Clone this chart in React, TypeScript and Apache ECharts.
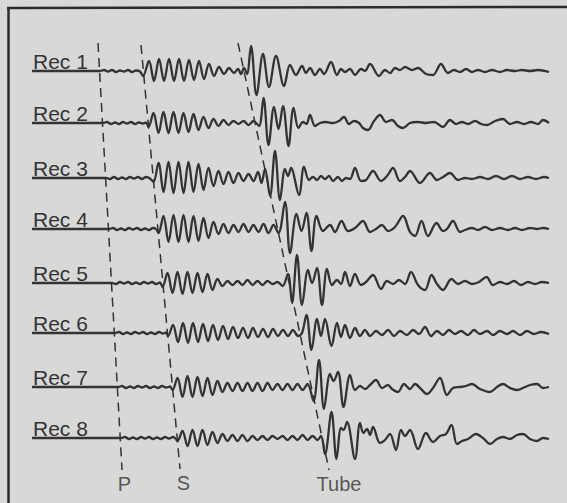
import React, { useEffect, useRef } from "react";
import * as echarts from "echarts";

// ---------- data (time axis in arbitrary units, amplitude up = positive) ----------
const recLabels = ["Rec 1", "Rec 2", "Rec 3", "Rec 4", "Rec 5", "Rec 6", "Rec 7", "Rec 8"];

const rec1 = [
  [32,0],[100,0],[104,1],[108,-0.5],[112,1],[116,-1],[120,0.5],[124,-0.5],[128,1],[132,-1],[136,0.5],[140,-0.5],
  [143,-5],[149,10],[154,-10],[159,12],[164,-10],[169,12],[174,-10],[179,12],[184,-10],[189,11],[194,-9],[199,10],[204,-8],[209,7],[214,-5],[219,4],[224,-3],[229,3],[234,-2],[238,2],[241,-3],[244,3],[247,-3],
  [251,25],[256.5,-24],[263,17],[269,-16],[276,15],[284,-15],[290,6],[296,-4],[302,5],[306,-2],[310,3],[315,-4],[320,2],[324,-3],[331,9],[337,-4],[341,2],[345,-1],[350,2],[355,-4],[361,2],[365,0],[370,7],[379,-5],[385,1],[390,-2],[395,3],[400,1],[405,4],[412,1],[418,3],[426,-3],[433,-4],[441,7],[448,-2],[454,1],[460,-1],[466,2],[472,-1],[478,1],[485,-1],[492,1],[500,-1],[507,1],[515,0],[522,1],[530,0],[538,1],[549,-1]
];
const rec2 = [
  [32,0],[103,0],[107,1],[111,-1],[115,0.5],[119,-1],[123,1],[127,-0.5],[131,1],[135,-1],[139,0.5],[143,-0.5],[146,0.5],
  [148.5,-4],[153.5,10],[158.5,-10],[163.5,11],[168.5,-10],[173.5,11],[178.5,-10],[183.5,10],[188.5,-9],[193.5,9],[198.5,-7],[203.5,6],[208.5,-5],[213.5,4],[218.5,-3],[223.5,3],[228.5,-2],[233.5,2],[238.5,-1],[243.5,2],[248.5,-2],[253.5,2],[259,-3],
  [263.5,25],[268.5,-22],[274,16],[278.5,-6],[283,17],[288.5,-23],[293.5,15],[298.5,-5],[303,1],[306.5,-1],[310,8],[315,-3],[320,0],[326,1],[333,0],[339,2],[344,6],[349,-1],[354,2],[359,0],[363,-5],[368,-7],[374,2],[380,8],[386,1],[392,3],[398,-3],[403,-5],[410,0],[418,1],[426,0],[434,1],[443,-4],[450,3],[456,-1],[462,1],[468,-1],[475,2],[481,-1],[487,-2],[495,2],[503,4],[510,-1],[517,1],[524,-1],[531,1],[538,-1],[543,3],[549,0]
];
const rec3 = [
  [32,0],[106,0],[110,-1],[114,1],[118,-1],[122,0.5],[126,-1],[130,1],[134,-0.5],[138,1],[142,-1],[146,1],[150,-0.5],
  [153.5,-4],[158.5,15],[163.5,-14],[168.5,16],[173.5,-15],[178.5,16],[183.5,-15],[188.5,16],[193.5,-14],[198.5,14],[203.5,-12],[208.5,10],[213.5,-8],[218.5,7],[223.5,-6],[228.5,6],[233.5,-5],[238.5,5],[243.5,-3],[248.5,4],[253.5,-3],[258,6],[261.5,-5],
  [265,9],[270,-18],[275,27],[280,-22],[285,9],[288,2],[291,10],[299,-17],[304,11],[309,-2],[313,1],[317,-2],[321,2],[325,-1],[329,2],[333,-3],[338,1],[342,-3],[346,0],[350,-1],[355,10],[361,-3],[366,-2],[373,7],[381,-3],[387,2],[393,10],[400,-3],[405,1],[410,7],[420,-5],[430,5],[437,-2],[443,1],[450,5],[458,-2],[465,0],[472,-1],[480,1],[488,-1],[496,2],[504,-1],[512,2],[520,-1],[528,1],[536,-1],[544,1],[549,0]
];
const rec4 = [
  [32,0],[109,0],[113,1],[117,-1],[121,0.5],[125,-1],[129,1],[133,-0.5],[137,1],[141,-1],[145,0.5],[149,-1],[153,1],[156,0],
  [158.5,-4],[163.5,13],[168.5,-13],[173.5,14],[178.5,-13],[183.5,14],[188.5,-13],[193.5,13],[198.5,-12],[203.5,11],[208.5,-9],[213.5,7],[218.5,-5],[223.5,5],[228.5,-4],[233.5,4],[238.5,-3],[243.5,5],[248.5,-3],[253.5,4],[258.5,-3],[263.5,5],[268.5,-4],[273.5,4],[278.5,-4],
  [285,27],[290,-24],[296.5,15],[301.5,-2],[306.5,16],[311.5,-22],[316.5,13],[323,-2],[330,4],[335,-3],[341.5,8],[348,-2],[355,1],[363,8],[370,-3],[376,0],[382,4],[388,-2],[395,2],[403,13],[410,-3],[415,-7],[421.5,8],[428,-7],[436.5,6],[443,-2],[447,0],[453,8],[460,-3],[465,-1],[472,1],[478,-1],[485,2],[492,-1],[500,1],[508,-1],[515,1],[522,-1],[530,1],[537,0],[543,1],[549,0]
];
const rec5 = [
  [32,0],[112,0],[116,-1],[120,1],[124,-0.5],[128,1],[132,-1],[136,0.5],[140,-1],[144,1],[148,-0.5],[152,1],[156,-1],[160,0.5],
  [162.5,-4],[167.5,10],[172.5,-10],[177.5,11],[182.5,-11],[187.5,11],[192.5,-10],[197.5,10],[202.5,-9],[207.5,9],[212.5,-7],[217.5,4],[222.5,-3],[227.5,2],[232.5,-2],[237.5,2],[242.5,-2],[247.5,3],[252.5,-2],[257.5,2],[262.5,-2],[267.5,2],[272.5,-1],[277.5,1],[282.5,-3],
  [288,9],[292,-20],[297,28],[302,-22],[308,13],[312,0],[317,15],[322,-22],[327,14],[332,-2],[337,3],[341,-1],[345,11],[350,-3],[355,9],[361,-2],[366,1],[373,8],[381,-6],[387,2],[393,-1],[399,3],[405,-1],[411,11],[418,-2],[425,-7],[431.5,8],[437,-1],[443,-7],[451.5,4],[458,-1],[465,2],[472,-1],[479,1],[486.5,6],[493,-2],[500,1],[507,-1],[514,2],[521,-2],[528,1],[535,-1],[542,1],[549,0]
];
const rec6 = [
  [32,0],[115,0],[119,1],[123,-1],[127,0.5],[131,-1],[135,1],[139,-0.5],[143,1],[147,-1],[151,0.5],[155,-1],[159,1],[163,-0.5],[166,0.5],
  [168,-3],[173,8],[178,-9],[183,10],[188,-10],[193,10],[198,-9],[203,9],[208,-8],[213,8],[218,-7],[223,7],[228,-6],[233,6],[238,-5],[243,5],[248,-5],[253,5],[258,-4],[263,4],[268,-4],[273,4],[278,-3],[283,3],[288,-3],[293,3],[298,-3],[302,0],
  [306.5,18],[311.5,-17],[317,14],[321,-3],[325,14],[331.5,-13],[337,10],[341,-4],[345,8],[350,-5],[355,5],[360,-3],[365,3],[370,-3],[376,2],[382,-2],[388,3],[394,-3],[400,2],[407,-2],[413,3],[419,-1],[425,6],[431,-3],[437,2],[443,-2],[449,3],[455,-1],[461,2],[468,-2],[474,3],[480,-1],[487,2],[493,-2],[500,2],[507,-1],[513,2],[520,-2],[527,2],[534,-1],[541,1],[549,-1]
];
const rec7 = [
  [32,0],[118,0],[122,1],[126,-1],[130,0.5],[134,-1],[138,1],[142,-0.5],[146,1],[150,-1],[154,0.5],[158,-1],[162,1],[166,-0.5],[170,0.5],
  [172.5,-3],[177.5,9],[182.5,-10],[187.5,11],[192.5,-10],[197.5,10],[202.5,-9],[207.5,9],[212.5,-8],[217.5,6],[222.5,-5],[227.5,4],[232.5,-4],[237.5,4],[242.5,-4],[247.5,4],[252.5,-4],[257.5,4],[262.5,-4],[267.5,4],[272.5,-3],[277.5,3],[282.5,-3],[287.5,3],[292.5,-3],[297.5,3],[302.5,-3],[307.5,3],
  [313.5,-14],[319,27],[324,-22],[330,13],[333.5,6],[338,15],[343.5,-20],[350,12],[355,-3],[360,1],[365,-2],[370,2],[376,7],[382,-1],[388,2],[392,-2],[398,-5],[404,3],[410,-2],[415,3],[421,-2],[427,-7],[433,-1],[440,9],[447,-8],[453,-1],[460,0],[466,1],[472,3],[480,-2],[490,-5],[497,0],[503,3],[510,-1],[517,-3],[525,0],[530,2],[537,3],[543,-1],[549,0]
];
const rec8 = [
  [32,0],[121,0],[125,1],[129,-1],[133,0.5],[137,-1],[141,1],[145,-0.5],[149,1],[153,-1],[157,0.5],[161,-1],[165,1],[169,-0.5],[173,1],[175,0],
  [177.5,-3],[182.5,7],[187.5,-8],[192.5,8],[197.5,-8],[202.5,8],[207.5,-7],[212.5,6],[217.5,-5],[222.5,4],[227.5,-3],[232.5,3],[237.5,-3],[242.5,3],[247.5,-3],[252.5,2],[257.5,-2],[262.5,2],[267.5,-2],[272.5,2],[277.5,-1],[282.5,2],[287.5,-2],[292.5,2],[297.5,-2],[302.5,3],[307.5,-2],[312.5,2],[317.5,-2],[321,2],
  [325,-16],[331.5,26],[336.5,-21],[341,10],[343.5,8],[347,16],[355,-21],[360,15],[363.5,5],[367,9],[370,3],[373,11],[380,-5],[385,-2],[390,4],[396,-12],[401,8],[405,2],[410,8],[418,-11],[426,5],[433,-4],[440,2],[446,4],[451.5,13],[457,-6],[462,-3],[468,-1],[476,4],[483,0],[490,-6],[497,-1],[503,1],[510,-1],[517,3],[523,4],[530,-1],[537,-3],[543,0],[549,-1]
];
const traces = [rec1, rec2, rec3, rec4, rec5, rec6, rec7, rec8];

// moveout lines: [time, receiver position]
const moveoutNames = ["P", "S", "Tube"];
const pLine = [[98, 0.466], [122, 8.61]];
const sLine = [[141, 0.504], [180, 8.59]];
const tubeLine = [[238, 0.466], [329, 8.61]];
const moveoutLines = [pLine, sLine, tubeLine];

// ---------- layout ----------
const W = 567;
const H = 503;
const BASELINES = [71, 123, 178, 229, 283, 333, 387, 438];
const X_MIN = 30;
const X_MAX = 550;
const GRID_LEFT = 30;
const GRID_RIGHT = W - 550;
const HALF = 32;
const REC_SPACING = 52.43;
const INK = "#353233";
const BG = "#d8d9d7";
const FONT = '"Liberation Sans", Arial, Helvetica, sans-serif';
const LABEL_OFFSETS = [[2.5, 0], [3.5, 0], [10, 0]];

export default function App() {
  const ref = useRef<HTMLDivElement>(null);
  useEffect(() => {
    if (!ref.current) return;
    const chart = echarts.init(ref.current, null, { renderer: "svg" });

    const grids: any[] = [];
    const xAxes: any[] = [];
    const yAxes: any[] = [];
    const series: any[] = [];
    const hiddenAxis = { show: false };

    BASELINES.forEach((b, i) => {
      grids.push({ left: GRID_LEFT, right: GRID_RIGHT, top: b - HALF, height: 2 * HALF });
      xAxes.push({ type: "value", gridIndex: i, min: X_MIN, max: X_MAX, ...hiddenAxis });
      yAxes.push({ type: "value", gridIndex: i, min: -HALF, max: HALF, ...hiddenAxis });
      series.push({
        type: "line",
        name: recLabels[i],
        xAxisIndex: i,
        yAxisIndex: i,
        data: traces[i],
        smooth: 0.35,
        showSymbol: false,
        symbol: "none",
        lineStyle: { color: INK, width: 2.3 },
        clip: false,
        z: 3,
      });
    });

    // overlay grid for moveout lines (y = receiver number)
    const ov = BASELINES.length;
    const ovTop = BASELINES[0] - REC_SPACING;
    grids.push({ left: GRID_LEFT, right: GRID_RIGHT, top: ovTop, height: REC_SPACING * 9 });
    xAxes.push({ type: "value", gridIndex: ov, min: X_MIN, max: X_MAX, ...hiddenAxis });
    yAxes.push({ type: "value", gridIndex: ov, min: 0, max: 9, inverse: true, ...hiddenAxis });
    moveoutLines.forEach((ln, k) => {
      series.push({
        type: "line",
        name: moveoutNames[k],
        xAxisIndex: ov,
        yAxisIndex: ov,
        data: ln,
        showSymbol: false,
        symbol: "none",
        lineStyle: { color: INK, width: 1.5, type: [9, 6] },
        clip: false,
        z: 2,
      });
    });
    series.push({
      type: "scatter",
      xAxisIndex: ov,
      yAxisIndex: ov,
      symbolSize: 1,
      itemStyle: { color: "rgba(0,0,0,0)" },
      data: moveoutLines.map((ln, k) => ({
        value: [ln[1][0], ln[1][1], moveoutNames[k]],
        label: {
          show: true,
          position: "bottom",
          distance: 4,
          offset: LABEL_OFFSETS[k],
          formatter: (p: any) => p.value[2],
          color: INK,
          fontSize: 20,
          fontFamily: FONT,
        },
      })),
      z: 4,
    });

    const graphic: any[] = [
      { type: "line", shape: { x1: 7, y1: 8, x2: W, y2: 7 }, style: { stroke: "#2c2a2b", lineWidth: 2.5 } },
      { type: "line", shape: { x1: 8.5, y1: 7, x2: 8.5, y2: H }, style: { stroke: "#2c2a2b", lineWidth: 2.5 } },
      ...BASELINES.map((b, i) => ({
        type: "text",
        x: 33,
        y: b - 10,
        style: {
          text: recLabels[i],
          fill: INK,
          font: `21px ${FONT}`,
          textAlign: "left",
          textVerticalAlign: "middle",
          align: "left",
          verticalAlign: "middle",
        },
      })),
    ];

    chart.setOption({
      animation: false,
      backgroundColor: BG,
      grid: grids,
      xAxis: xAxes,
      yAxis: yAxes,
      series,
      graphic,
    });
    return () => chart.dispose();
  }, []);

  return (
    <div style={{ position: "absolute", left: 0, top: 0, width: W, height: H, background: BG }}>
      <div ref={ref} style={{ width: W, height: H }} />
    </div>
  );
}
